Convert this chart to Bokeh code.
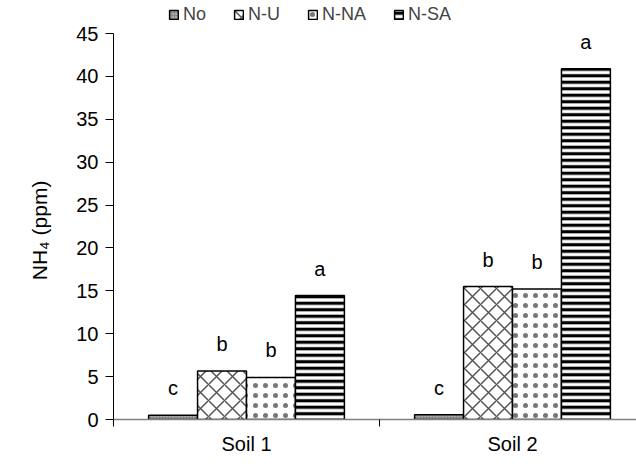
from bokeh.plotting import figure
from bokeh.models import (ColumnDataSource, FixedTicker, Legend, LegendItem,
                          Range1d, LabelSet)
from bokeh.core.properties import value
from bokeh.embed import file_html
from bokeh.resources import INLINE

# ---- data ----
soils = ["Soil 1", "Soil 2"]
treatments = ["No", "N-U", "N-NA", "N-SA"]
no_vals = [0.5, 0.55]
nu_vals = [5.65, 15.5]
nna_vals = [4.9, 15.2]
nsa_vals = [14.45, 40.9]
no_letters = ["c", "c"]
nu_letters = ["b", "b"]
nna_letters = ["b", "b"]
nsa_letters = ["a", "a"]
y_ticks = [0, 5, 10, 15, 20, 25, 30, 35, 40, 45]
y_max = 45
y_title = "NH\u2084 (ppm)"

series = [
    (no_vals, no_letters),
    (nu_vals, nu_letters),
    (nna_vals, nna_letters),
    (nsa_vals, nsa_letters),
]

FONT = "Liberation Sans"
BAR_W = 0.184
styles = [
    dict(fill_color="#8a8a8a", hatch_pattern="dot", hatch_scale=3, hatch_weight=1.2, hatch_color="#dddddd"),
    dict(fill_color="white", hatch_pattern="diagonal_cross", hatch_scale=16, hatch_weight=1.5, hatch_color="#555555"),
    dict(fill_color="white", hatch_pattern="dot", hatch_scale=10, hatch_color="#777777"),
    dict(fill_color="white", hatch_pattern="horizontal_line", hatch_scale=6.5, hatch_weight=3.2, hatch_color="black"),
]

PX_PER_UNIT = 386 / 45
p = figure(width=636, height=460, output_backend="svg", toolbar_location=None,
           x_range=Range1d(0, 523 / 266), y_range=Range1d(0, y_max + 33 / PX_PER_UNIT),
           min_border_left=113, min_border_right=0, min_border_top=0,
           min_border_bottom=41)
p.outline_line_color = None
p.xgrid.grid_line_color = None
p.ygrid.grid_line_color = None
p.background_fill_color = "white"

items = []
for k, ((vals, letters), name, st) in enumerate(zip(series, treatments, styles)):
    xs = [i + 0.5 + (k - 1.5) * BAR_W for i in range(len(soils))]
    src = ColumnDataSource(dict(x=xs, top=vals, letter=letters))
    r = p.vbar(x="x", top="top", bottom=0, width=BAR_W, source=src,
               line_color="black", line_width=1.5, **st)
    items.append(LegendItem(label=name, renderers=[r]))
    lab = LabelSet(x="x", y="top", text="letter", source=src, text_align="center",
                   text_baseline="bottom", y_offset=16, text_font=value(FONT),
                   text_font_size="20px", text_color="black")
    p.add_layout(lab)

# x axis
xa = p.xaxis[0]
xa.ticker = FixedTicker(ticks=[0.5, 1.5], minor_ticks=[0, 1, 2])
xa.major_label_overrides = {0.5: soils[0], 1.5: soils[1]}
xa.major_tick_out = 0
xa.major_tick_in = 0
xa.minor_tick_out = 7
xa.minor_tick_in = 0
xa.minor_tick_line_color = "black"
xa.axis_line_color = "#808080"
xa.axis_line_width = 1.5
xa.major_label_text_font = FONT
xa.major_label_text_font_size = "20px"
xa.major_label_text_color = "black"
xa.major_label_standoff = 6

# y axis
ya = p.yaxis[0]
ya.ticker = FixedTicker(ticks=y_ticks)
ya.bounds = (0, y_max)
ya.minor_tick_line_color = None
ya.major_tick_out = 8
ya.major_tick_in = 0
ya.axis_line_color = "black"
ya.major_tick_line_color = "black"
ya.major_label_text_font = FONT
ya.major_label_text_font_size = "20px"
ya.major_label_text_color = "black"
ya.major_label_standoff = 7
# trailing no-break spaces shift the rotated title down to the centre of the 0-45 span
ya.axis_label = y_title + "\u00a0" * 7
ya.axis_label_text_font = FONT
ya.axis_label_text_font_size = "21px"
ya.axis_label_text_font_style = "normal"
ya.axis_label_text_color = "black"
ya.axis_label_standoff = 22

legend = Legend(items=items, orientation="horizontal", location=(55, 394),
                glyph_width=11, glyph_height=11, label_standoff=4, spacing=27,
                padding=0, margin=0, border_line_color=None,
                background_fill_alpha=0,
                label_text_font=FONT, label_text_font_size="18px",
                label_height=14)
p.add_layout(legend)

open("out.html", "w").write(file_html(p, INLINE))
